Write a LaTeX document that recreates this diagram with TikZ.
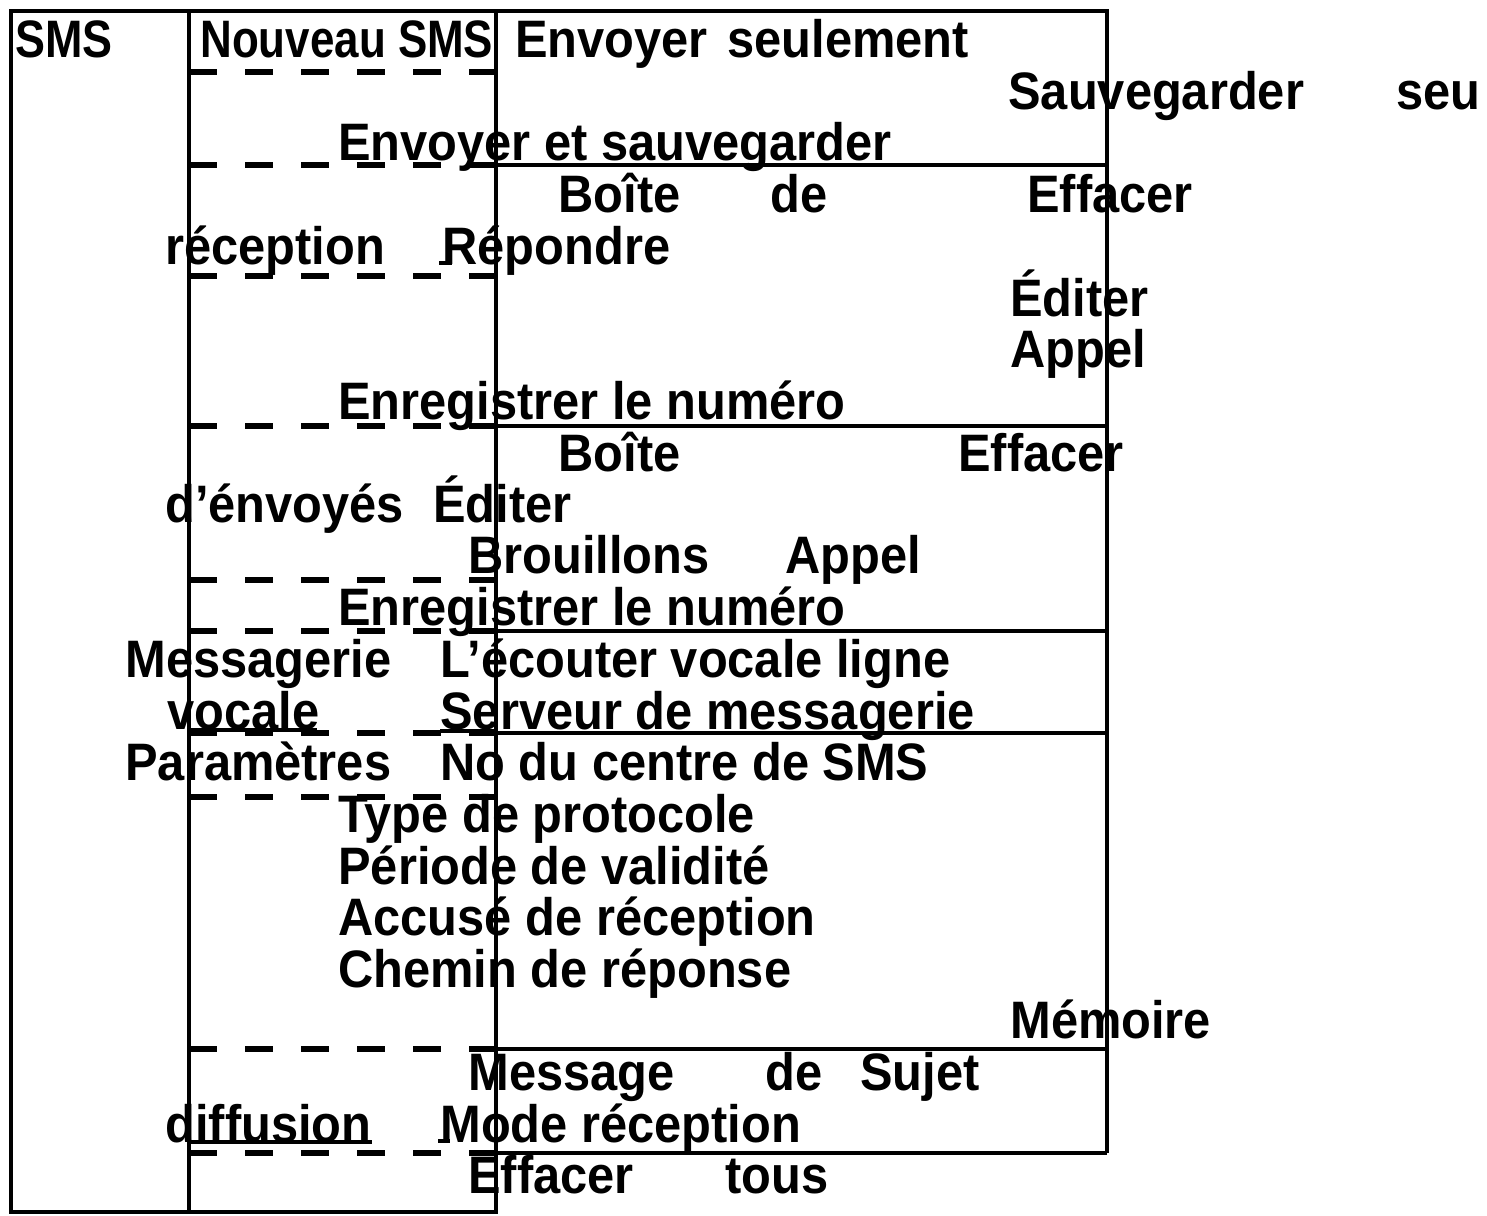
\documentclass[tikz,border=0pt]{standalone}
\usepackage{fontspec}
\setmainfont{Liberation Sans}
\begin{document}
\begin{tikzpicture}[x=0.5pt,y=-0.5pt,
  rule/.style={line width=2.4pt},
  dsh/.style={line width=2.6pt,dash pattern=on 14pt off 14pt},
  uline/.style={line width=2pt},
  lbl/.style={anchor=base west,inner sep=0pt,font=\fontsize{24.4}{29}\selectfont\bfseries}]
\useasboundingbox (0,0) rectangle (1487,1215);
% frame and columns
\draw[rule] (1107,1153) -- (1107,11) -- (11,11) -- (11,1212) -- (496,1212) -- (496,11);
\draw[rule] (189,11) -- (189,1212);
% row separators
\foreach \y in {72,276,580,797} {
   \draw[dsh] (189,\y) -- (496,\y);
}
\foreach \y in {165,426,631,733,1049,1153} {
   \draw[dsh] (189,\y) -- (496,\y);
   \draw[rule] (496,\y) -- (1107,\y);
}
% underlines
\draw[uline] (439,263) -- (452,263);
\draw[uline] (189,730) -- (317,730) (440,731) -- (496,731);
\draw[uline] (189,1142) -- (372,1142) (438,1141) -- (450,1141);
% texts
\foreach \x/\y/\t [count=\i] in %
{15/57/{\scalebox{0.92}[1]{SMS}},200/57/{\scalebox{0.9}[1]{Nouveau SMS}},
 515/57/{Envoyer\hspace{0.4em}seulement},1008/109/Sauvegarder,1396/109/seu,
 338/160/Envoyer et sauvegarder,558/212/Boîte,770/212/de,1027/212/Effacer,
 165/264/réception,442/264/Répondre,1010/316/Éditer,1010/367/Appel,
 338/419/Enregistrer le numéro,558/471/Boîte,958/471/Effacer,
 165/522/d’énvoyés,433/522/Éditer,468/573/Brouillons,785/573/Appel,
 338/625/Enregistrer le numéro,125/677/Messagerie,440/677/L’écouter vocale ligne,
 167/729/vocale,440/729/Serveur de messagerie,125/780/Paramètres,
 440/780/No du centre de SMS,338/832/Type de protocole,
 338/884/Période de validité,338/935/Accusé de réception,
 338/987/Chemin de réponse,1010/1038/Mémoire,468/1090/Message,765/1090/de,
 860/1090/Sujet,165/1142/diffusion,440/1142/Mode réception,
 468/1193/Effacer,725/1193/tous} {
   \node[lbl] (w\i) at (\x,\y) {\scalebox{1}[1.08]{\t}};
}
\end{tikzpicture}
\end{document}
